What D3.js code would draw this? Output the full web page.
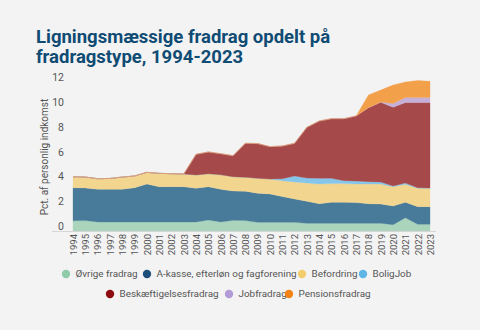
<!DOCTYPE html>
<html><head><meta charset="utf-8">
<script src="https://cdn.jsdelivr.net/npm/d3@7"></script>
<style>
html,body{margin:0;padding:0;background:#f3f3f3;}
svg{display:block;font-family:Roboto,"Noto Sans",sans-serif;}
</style></head><body>
<svg id="c" width="480" height="330"></svg>
<script>
const years = d3.range(1994, 2024);
const ovrige = [0.83,0.84,0.73,0.73,0.73,0.73,0.73,0.73,0.73,0.73,0.73,0.89,0.73,0.86,0.84,0.70,0.70,0.70,0.70,0.62,0.62,0.62,0.62,0.62,0.62,0.62,0.51,1.08,0.54,0.54];
const akasse = [2.67,2.64,2.64,2.64,2.64,2.77,3.07,2.85,2.85,2.85,2.72,2.69,2.64,2.37,2.37,2.35,2.30,2.08,1.89,1.78,1.59,1.70,1.70,1.68,1.59,1.56,1.51,1.24,1.43,1.43];
const befordring = [0.89,0.88,0.86,0.88,0.99,0.95,0.94,1.08,1.05,1.03,1.08,1.05,1.18,1.16,1.14,1.21,1.20,1.29,1.37,1.48,1.59,1.51,1.51,1.50,1.59,1.62,1.56,1.45,1.48,1.48];
const boligjob = [0,0,0,0,0,0,0,0,0,0,0,0,0,0,0,0,0,0.16,0.49,0.40,0.46,0.43,0.24,0.24,0.19,0.16,0.06,0.11,0.05,0.03];
const beskaeft = [0,0,0,0,0,0,0,0,0,0,1.67,1.76,1.70,1.70,2.74,2.81,2.62,2.64,2.64,4.10,4.63,4.82,5.01,5.26,5.98,6.44,6.36,6.50,6.88,6.90];
const jobfradrag = [0,0,0,0,0,0,0,0,0,0,0,0,0,0,0,0,0,0,0,0,0,0,0,0,0,0.03,0.30,0.42,0.42,0.42];
const pension = [0,0,0,0,0,0,0,0,0,0,0,0,0,0,0,0,0,0,0,0,0,0,0,0,1.03,0.96,1.50,1.25,1.37,1.30];
const yTicks = [0,2,4,6,8,10,12];

const series = [
  {key:"Øvrige fradrag", values:ovrige, fill:"#aad5bc", dot:"#8fcba8"},
  {key:"A-kasse, efterløn og fagforening", values:akasse, fill:"#487a9a", dot:"#1b4f7a"},
  {key:"Befordring", values:befordring, fill:"#f2d58e", dot:"#f3cd6c"},
  {key:"BoligJob", values:boligjob, fill:"#86c6ea", dot:"#5fb6e6"},
  {key:"Beskæftigelsesfradrag", values:beskaeft, fill:"#a6494a", dot:"#8c0c10"},
  {key:"Jobfradrag", values:jobfradrag, fill:"#c6b0da", dot:"#b39bd6"},
  {key:"Pensionsfradrag", values:pension, fill:"#f3a04b", dot:"#f48214"}
];

const rows = years.map((y,i)=>{const o={year:y}; series.forEach(s=>o[s.key]=s.values[i]); return o;});
const stack = d3.stack().keys(series.map(s=>s.key))(rows);

const svg = d3.select("#c");
const x = d3.scaleLinear().domain([1994,2023]).range([73,430]);
const y = d3.scaleLinear().domain([0,12]).range([231,82.56]);

// title
const title = svg.append("g").attr("fill","#0f4b73").attr("font-weight","700").attr("font-size","18.5px");
title.append("text").attr("x",36).attr("y",43).text("Ligningsmæssige fradrag opdelt på");
title.append("text").attr("x",36).attr("y",63).text("fradragstype, 1994-2023");

// areas
const area = d3.area().x(d=>x(d.data.year)).y0(d=>y(d[0])).y1(d=>y(d[1]));
svg.append("g").selectAll("path").data(stack).join("path")
  .attr("d",area).attr("fill",(d,i)=>series[i].fill).attr("stroke",(d,i)=>series[i].fill).attr("stroke-width",0.3);

// baseline
svg.append("line").attr("x1",52).attr("x2",436).attr("y1",y(0)+0.5).attr("y2",y(0)+0.5).attr("stroke","#d6d6d6").attr("stroke-width",1);

// y axis
const ya = svg.append("g").attr("transform","translate(64,0)")
  .call(d3.axisLeft(y).tickValues(yTicks).tickSize(0).tickPadding(0));
ya.select(".domain").remove();
ya.selectAll("text").attr("fill","#555").attr("font-size","10.5px").attr("font-family","Roboto").attr("dy","-0.15em").attr("text-anchor","end");

svg.append("text").attr("transform","translate(48,157) rotate(-90)").attr("text-anchor","middle")
  .attr("fill","#555").attr("font-size","10px").text("Pct. af personlig indkomst");

// x axis
const xa = svg.append("g").attr("transform",`translate(0,${y(0)})`)
  .call(d3.axisBottom(x).tickValues(years).tickFormat(d3.format("d")).tickSize(0));
xa.select(".domain").remove();
xa.selectAll("text").attr("fill","#555").attr("font-size","9.5px").attr("font-family","Roboto")
  .attr("transform","rotate(-90)").attr("text-anchor","end").attr("x",-3).attr("y",0).attr("dy","0.35em");

// legend
const legendPos = [
  [66,274],[147,274],[302,274],[363,274],
  [110,294],[229,294],[289,294]
];
const lg = svg.append("g").selectAll("g").data(series).join("g")
  .attr("transform",(d,i)=>`translate(${legendPos[i][0]},${legendPos[i][1]})`);
lg.append("circle").attr("r",4.2).attr("fill",d=>d.dot);
lg.append("text").attr("x",9.5).attr("dy","0.35em").attr("fill","#555").attr("font-size","9.9px").text(d=>d.key);
</script>
</body></html>
